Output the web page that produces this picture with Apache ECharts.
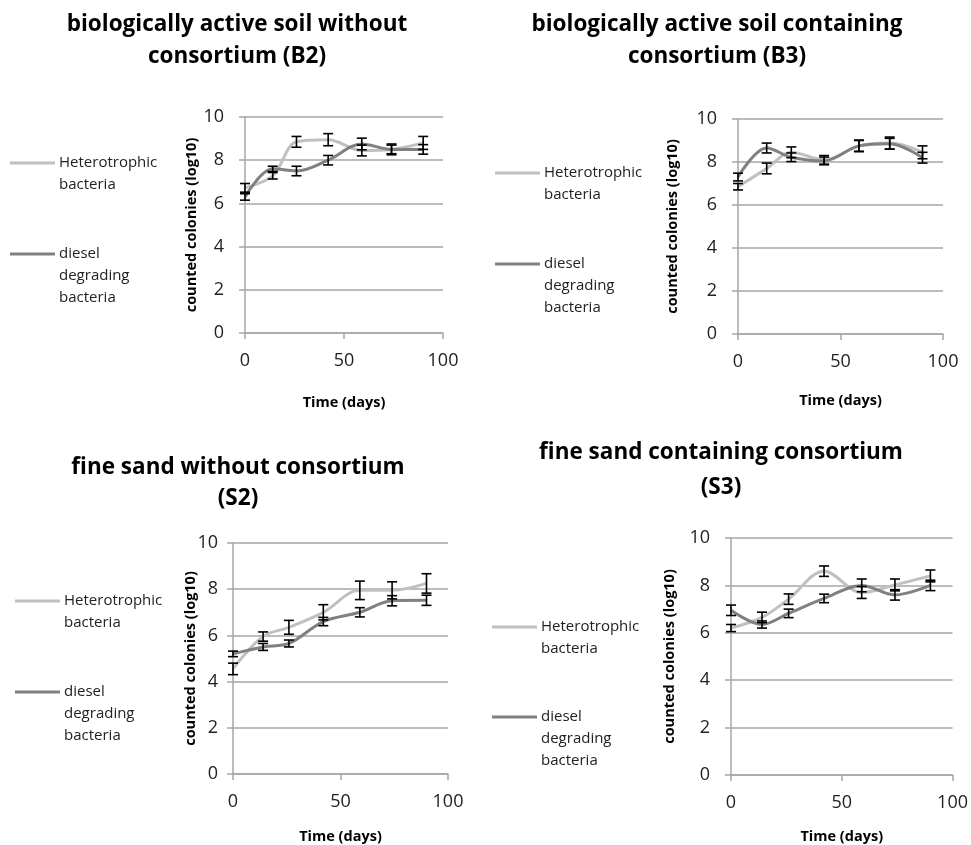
<!DOCTYPE html>
<html>
<head>
<meta charset="utf-8">
<script src="https://cdn.jsdelivr.net/npm/echarts@6/dist/echarts.min.js"></script>
<style>
  html, body { margin: 0; padding: 0; background: #fff; }
  #chart { width: 971px; height: 845px; }
</style>
</head>
<body>
<div id="chart"></div>
<script>
// sampling days (same for every panel)
const days = [0, 14, 26, 42, 59, 74, 90]

// B2 - biologically active soil without consortium
const b2Het = [6.72, 7.28, 8.85, 8.95, 8.45, 8.5, 8.8]
const b2HetErr = [0.2, 0.15, 0.25, 0.28, 0.25, 0.25, 0.3]
const b2Die = [6.3, 7.6, 7.5, 8.0, 8.75, 8.5, 8.5]
const b2DieErr = [0.15, 0.12, 0.22, 0.22, 0.27, 0.2, 0.22]

// B3 - biologically active soil containing consortium
const b3Het = [6.85, 7.7, 8.45, 8.1, 8.75, 8.88, 8.45]
const b3HetErr = [0.15, 0.25, 0.25, 0.2, 0.27, 0.28, 0.3]
const b3Die = [7.3, 8.65, 8.22, 8.05, 8.75, 8.85, 8.2]
const b3DieErr = [0.18, 0.23, 0.2, 0.18, 0.25, 0.25, 0.25]

// S2 - fine sand without consortium
const s2Het = [4.55, 5.95, 6.35, 7.0, 7.95, 7.95, 8.25]
const s2HetErr = [0.25, 0.2, 0.3, 0.33, 0.4, 0.37, 0.42]
const s2Die = [5.2, 5.5, 5.65, 6.6, 7.0, 7.5, 7.52]
const s2DieErr = [0.12, 0.15, 0.15, 0.18, 0.2, 0.22, 0.22]

// S3 - fine sand containing consortium
const s3Het = [6.2, 6.65, 7.42, 8.6, 7.7, 8.02, 8.4]
const s3HetErr = [0.15, 0.22, 0.22, 0.22, 0.25, 0.25, 0.25]
const s3Die = [6.95, 6.35, 6.82, 7.45, 8.0, 7.6, 8.0]
const s3DieErr = [0.22, 0.15, 0.18, 0.18, 0.27, 0.22, 0.22]

const titles = [
  'biologically active soil without\nconsortium (B2)',
  'biologically active soil containing\nconsortium (B3)',
  'fine sand without consortium\n(S2)',
  'fine sand containing consortium\n(S3)'
]
const seriesNames = ['Heterotrophic bacteria', 'diesel degrading bacteria']
const legendHet = 'Heterotrophic\nbacteria'
const legendDie = 'diesel\ndegrading\nbacteria'
const yName = 'counted colonies (log10)'
const xName = 'Time (days)'

const panels = [
  { het: b2Het, hetErr: b2HetErr, die: b2Die, dieErr: b2DieErr },
  { het: b3Het, hetErr: b3HetErr, die: b3Die, dieErr: b3DieErr },
  { het: s2Het, hetErr: s2HetErr, die: s2Die, dieErr: s2DieErr },
  { het: s3Het, hetErr: s3HetErr, die: s3Die, dieErr: s3DieErr }
]

// layout of each panel (pixels)
const layout = [
  { grid: [245, 117, 443, 333], title: [232, 4, 32], yGap: 46, yMargin: 21, xGap: 62, leg: [10, 163, 254] },
  { grid: [738, 119, 943, 334], title: [712, 4, 32], yGap: 58, yMargin: 21, xGap: 59, leg: [495, 173, 264] },
  { grid: [233, 543, 448, 774], title: [233, 447, 31], yGap: 35, yMargin: 15, xGap: 55, leg: [15, 601, 692] },
  { grid: [731, 538, 955, 775], title: [716, 430, 35], yGap: 54, yMargin: 21, xGap: 54, leg: [492, 627, 717] }
]

const lightGray = '#c0c0c0'
const darkGray = '#808080'
const axisGray = '#a6a6a6'
const font = '"Open Sans", "Noto Sans", sans-serif'

function errorBars(idx, vals, errs) {
  return {
    type: 'custom',
    xAxisIndex: idx,
    yAxisIndex: idx,
    z: 10,
    silent: true,
    encode: { x: 0, y: [1, 2] },
    data: days.map((d, i) => [d, vals[i] - errs[i], vals[i] + errs[i]]),
    renderItem(params, api) {
      const lo = api.coord([api.value(0), api.value(1)])
      const hi = api.coord([api.value(0), api.value(2)])
      const w = 5
      const style = { stroke: '#000', lineWidth: 1.6 }
      return {
        type: 'group',
        children: [
          { type: 'line', shape: { x1: hi[0], y1: hi[1], x2: lo[0], y2: lo[1] }, style },
          { type: 'line', shape: { x1: hi[0] - w, y1: hi[1], x2: hi[0] + w, y2: hi[1] }, style },
          { type: 'line', shape: { x1: lo[0] - w, y1: lo[1], x2: lo[0] + w, y2: lo[1] }, style }
        ]
      }
    }
  }
}

function lineSeries(idx, name, vals, color) {
  return {
    name,
    type: 'line',
    xAxisIndex: idx,
    yAxisIndex: idx,
    smooth: 0.35,
    symbol: 'none',
    lineStyle: { color, width: 3 },
    data: days.map((d, i) => [d, vals[i]])
  }
}

const grid = []
const xAxis = []
const yAxis = []
const title = []
const series = []
const graphic = []

layout.forEach((l, i) => {
  const [x1, y1, x2, y2] = l.grid
  grid.push({ left: x1, top: y1, width: x2 - x1, height: y2 - y1 })
  title.push({
    text: titles[i],
    left: l.title[0],
    top: l.title[1],
    textAlign: 'center',
    textStyle: { fontFamily: font, fontSize: 22.5, fontWeight: 'bold', color: '#000', lineHeight: l.title[2] }
  })
  xAxis.push({
    gridIndex: i,
    type: 'value',
    min: 0,
    max: 100,
    interval: 50,
    name: xName,
    nameLocation: 'middle',
    nameGap: l.xGap,
    nameTextStyle: { fontFamily: font, fontSize: 14.5, fontWeight: 'bold', color: '#000' },
    axisLine: { lineStyle: { color: axisGray, width: 1.5 } },
    axisTick: { show: true, length: 6, lineStyle: { color: axisGray, width: 1.5 } },
    axisLabel: { margin: 19, fontFamily: font, fontSize: 18, color: '#222' },
    splitLine: { show: false }
  })
  yAxis.push({
    gridIndex: i,
    type: 'value',
    min: 0,
    max: 10,
    interval: 2,
    name: yName,
    nameLocation: 'middle',
    nameGap: l.yGap,
    nameMoveOverlap: false,
    nameTextStyle: { fontFamily: font, fontSize: 14.5, fontWeight: 'bold', color: '#000' },
    axisLine: { show: true, lineStyle: { color: axisGray, width: 1.5 } },
    axisTick: { show: true, length: 6, lineStyle: { color: axisGray, width: 1.5 } },
    axisLabel: { margin: l.yMargin, fontFamily: font, fontSize: 18, color: '#222' },
    splitLine: { show: true, lineStyle: { color: axisGray, width: 1.5 } }
  })

  const p = panels[i]
  series.push(lineSeries(i, seriesNames[0], p.het, lightGray))
  series.push(lineSeries(i, seriesNames[1], p.die, darkGray))
  series.push(errorBars(i, p.het, p.hetErr))
  series.push(errorBars(i, p.die, p.dieErr))

  // legend on the left of each panel
  const [lx, lyHet, lyDie] = l.leg
  const textStyle = { fontFamily: font, fontSize: 15, fill: '#222', lineHeight: 22, verticalAlign: 'top' }
  graphic.push(
    { type: 'line', shape: { x1: lx, y1: lyHet, x2: lx + 45, y2: lyHet }, style: { stroke: lightGray, lineWidth: 3 } },
    { type: 'text', x: lx + 49, y: lyHet - 11, style: Object.assign({ text: legendHet }, textStyle) },
    { type: 'line', shape: { x1: lx, y1: lyDie, x2: lx + 45, y2: lyDie }, style: { stroke: darkGray, lineWidth: 3 } },
    { type: 'text', x: lx + 49, y: lyDie - 11, style: Object.assign({ text: legendDie }, textStyle) }
  )
})

const chart = echarts.init(document.getElementById('chart'))
chart.setOption({
  animation: false,
  backgroundColor: '#fff',
  title,
  grid,
  xAxis,
  yAxis,
  series,
  graphic
})
</script>
</body>
</html>
